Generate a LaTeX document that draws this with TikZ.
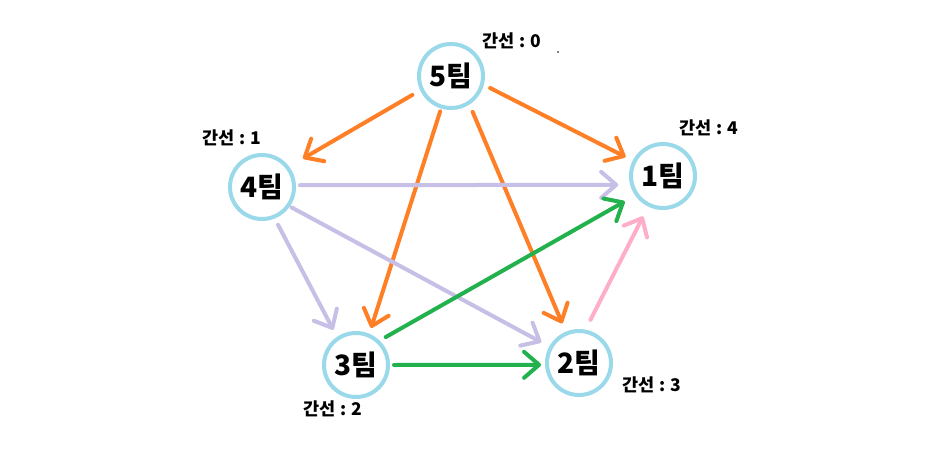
\documentclass[tikz,border=0pt]{standalone}
\usepackage{fontspec}
\setmainfont{Noto Sans CJK KR}
\usetikzlibrary{arrows.meta}
\definecolor{cOr}{HTML}{FF7F27}
\definecolor{cLa}{HTML}{C8BFE7}
\definecolor{cGr}{HTML}{22B14C}
\definecolor{cPk}{HTML}{FFAEC9}
\definecolor{cBl}{HTML}{99D9EA}
\begin{document}
\begin{tikzpicture}[x=1pt,y=-1pt,
  team/.style={circle, draw=cBl, line width=4pt, minimum size=64pt, inner sep=0pt,
    font=\fontsize{28}{32}\selectfont\bfseries},
  lab/.style={font=\fontsize{17.5}{20}\selectfont\bfseries, inner sep=0pt},
  conn/.style={line width=4pt, line cap=round, line join=round,
    -{Straight Barb[length=15pt,width=26pt,line cap=round,line join=round]}},
]
\useasboundingbox[fill=white] (0,0) rectangle (939,456);

\node[team] (n5) at (451,76) {5팀};
\node[team] (n4) at (262,187) {4팀};
\node[team] (n1) at (663,176) {1팀};
\node[team] (n3) at (356,365) {3팀};
\node[team] (n2) at (579,363) {2팀};

\node[lab] (l0) at (512,41) {간선 : 0};
\node[lab] (l1) at (232,138) {간선 : 1};
\node[lab] (l4) at (709,128) {간선 : 4};
\node[lab] (l2) at (333,409) {간선 : 2};
\node[lab] (l3) at (652,385) {간선 : 3};
\fill (558,52) circle (0.8pt);

% orange: from 5
\draw[conn, cOr, shorten <=9pt, shorten >=16pt] (n5.205) -- (n4.37);
\draw[conn, cOr, shorten <=7pt, shorten >=8pt] (n5.345) -- (n1.153);
\draw[conn, cOr, shorten <=3pt, shorten >=6pt] (n5.253) -- (n3.67);
\draw[conn, cOr, shorten <=8pt, shorten >=9pt] (n5.303) -- (n2.113);
% lavender: from 4
\draw[conn, cLa, shorten <=4pt, shorten >=12pt] (n4.3) -- (n1.195);
\draw[conn, cLa, shorten <=7pt, shorten >=8pt] (n4.292) -- (n3.124);
\draw[conn, cLa, shorten <=2pt, shorten >=9pt] (n4.325) -- (n2.151);
% green: from 3
\draw[conn, cGr, shorten <=7pt, shorten >=12pt] (n3.46) -- (n1.215);
\draw[conn, cGr, shorten <=4pt, shorten >=4pt] (n3.0) -- (n2.183.4);
% pink: from 2
\draw[conn, cPk, shorten <=11pt, shorten >=11pt] (n2.79) -- (n1.244);
\end{tikzpicture}
\end{document}
